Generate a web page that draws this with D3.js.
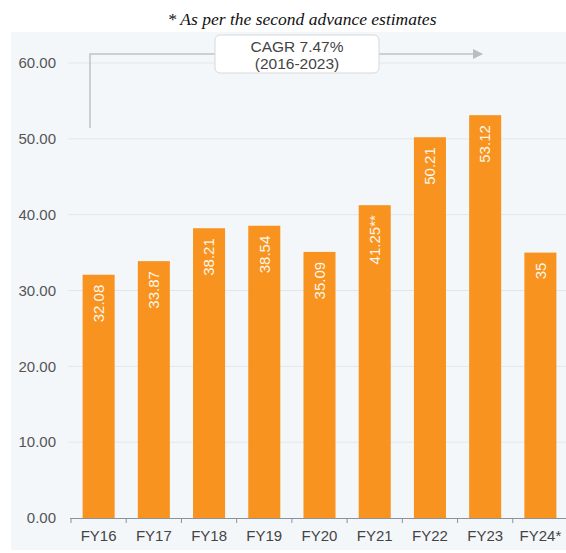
<!DOCTYPE html>
<html lang="en">
<head>
<meta charset="utf-8">
<title>FY values</title>
<script src="https://d3js.org/d3.v7.min.js"></script>
<style>
  body { margin: 0; background: #fff; }
  svg { display: block; }
</style>
</head>
<body>
<svg width="566" height="553"></svg>
<script>
    // data
    var years = ["FY16","FY17","FY18","FY19","FY20","FY21","FY22","FY23","FY24*"];
    var values = [32.08, 33.87, 38.21, 38.54, 35.09, 41.25, 50.21, 53.12, 35];
    var labels = ["32.08","33.87","38.21","38.54","35.09","41.25**","50.21","53.12","35"];
    var yTicks = [0, 10, 20, 30, 40, 50, 60];

    var svg = d3.select("svg");
    var font = "Arial, 'Liberation Sans', sans-serif";

    // light panel behind chart
    svg.append("rect")
        .attr("x", 11).attr("y", 32)
        .attr("width", 555).attr("height", 518)
        .attr("fill", "#f4f7fa");

    svg.append("text")
        .attr("x", 302).attr("y", 25)
        .attr("text-anchor", "middle")
        .attr("font-family", "'Liberation Serif', 'Times New Roman', serif")
        .attr("font-style", "italic")
        .attr("font-size", 17.5)
        .attr("fill", "#111")
        .text("* As per the second advance estimates");

    var xScale = d3.scaleBand()
        .domain(years)
        .range([71, 568])
        .paddingInner(0.42)
        .paddingOuter(0.21);

    var yScale = d3.scaleLinear()
        .domain([0, 60])
        .range([518, 63]);

    // gridlines
    svg.append("g").selectAll("line")
        .data(yTicks.slice(1))
        .enter().append("line")
        .attr("x1", 68).attr("x2", 566)
        .attr("y1", function(d){ return yScale(d); })
        .attr("y2", function(d){ return yScale(d); })
        .attr("stroke", "#e2e5ea")
        .attr("stroke-width", 1);

    // y labels
    svg.append("g").selectAll("text")
        .data(yTicks)
        .enter().append("text")
        .attr("x", 56)
        .attr("y", function(d){ return yScale(d); })
        .attr("dy", "0.35em")
        .attr("text-anchor", "end")
        .attr("font-family", font)
        .attr("font-size", 15)
        .attr("fill", "#555")
        .text(function(d){ return d.toFixed(2); });

    // bars
    svg.append("g").selectAll("rect")
        .data(values)
        .enter().append("rect")
        .attr("x", function(d,i){ return xScale(years[i]); })
        .attr("y", function(d){ return yScale(d); })
        .attr("width", xScale.bandwidth())
        .attr("height", function(d){ return yScale(0) - yScale(d); })
        .attr("fill", "#f7931e");

    // value labels inside bars, rotated
    svg.append("g").selectAll("text")
        .data(values)
        .enter().append("text")
        .attr("transform", function(d,i){
            var cx = xScale(years[i]) + xScale.bandwidth()/2;
            return "translate(" + cx + "," + (yScale(d) + 10) + ") rotate(-90)";
        })
        .attr("text-anchor", "end")
        .attr("dy", "0.35em")
        .attr("font-family", font)
        .attr("font-size", 15)
        .attr("fill", "#fff6ea")
        .text(function(d,i){ return labels[i]; });

    // x axis
    var xAxis = d3.axisBottom(xScale).tickSize(0).tickPadding(12);
    var gx = svg.append("g")
        .attr("transform", "translate(0,518)")
        .call(xAxis);
    gx.select(".domain").attr("stroke", "#8c919a").attr("d", "M70,0.5H566");
    gx.selectAll("text")
        .attr("font-family", font)
        .attr("font-size", 15)
        .attr("fill", "#444");
    // tick marks at band edges
    gx.append("g").selectAll("line")
        .data(years)
        .enter().append("line")
        .attr("x1", function(d){ return xScale(d) - xScale.step()*xScale.paddingInner()/2; })
        .attr("x2", function(d){ return xScale(d) - xScale.step()*xScale.paddingInner()/2; })
        .attr("y1", 0).attr("y2", 5)
        .attr("stroke", "#8c919a");

    // CAGR annotation
    var defs = svg.append("defs");
    defs.append("marker")
        .attr("id", "arr")
        .attr("viewBox", "0 0 10 10")
        .attr("refX", 9).attr("refY", 5)
        .attr("markerWidth", 7).attr("markerHeight", 7)
        .attr("orient", "auto")
        .append("path")
        .attr("d", "M0,0L10,5L0,10Z")
        .attr("fill", "#b9bcc2");

    svg.append("path")
        .attr("d", "M90,128V54H482")
        .attr("fill", "none")
        .attr("stroke", "#bfc2c7")
        .attr("stroke-width", 1.5)
        .attr("marker-end", "url(#arr)");

    svg.append("rect")
        .attr("x", 215).attr("y", 35)
        .attr("width", 164).attr("height", 38)
        .attr("rx", 5)
        .attr("fill", "#fff")
        .attr("stroke", "#d6d8dc");

    svg.append("text")
        .attr("x", 297).attr("y", 52)
        .attr("text-anchor", "middle")
        .attr("font-family", font)
        .attr("font-size", 15.5)
        .attr("fill", "#444")
        .text("CAGR 7.47%");
    svg.append("text")
        .attr("x", 297).attr("y", 69)
        .attr("text-anchor", "middle")
        .attr("font-family", font)
        .attr("font-size", 15.5)
        .attr("fill", "#444")
        .text("(2016-2023)");
</script>
</body>
</html>
